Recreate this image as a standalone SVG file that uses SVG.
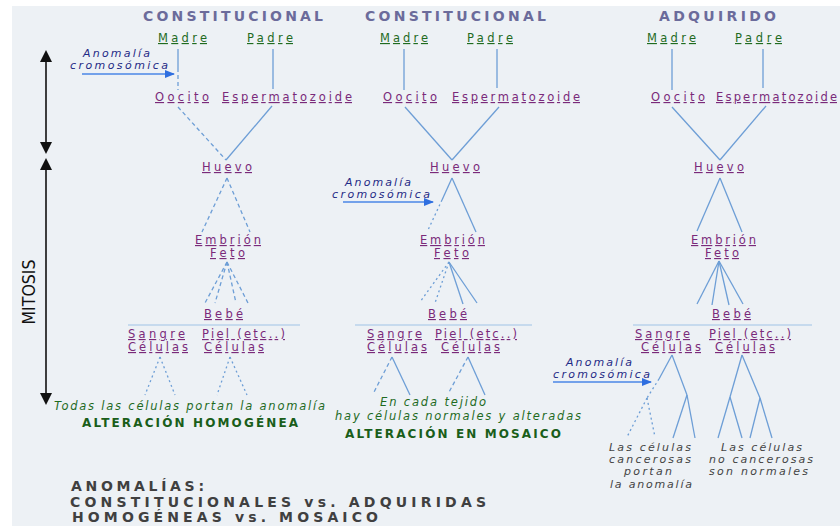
<svg xmlns="http://www.w3.org/2000/svg" width="840" height="526" viewBox="0 0 840 526">
<style>
text{font-family:"DejaVu Sans","Verdana",sans-serif;}
.ttl{font-size:14px;font-weight:bold;fill:#6b6b9b;}
.g{font-size:11.5px;fill:#1f6b1f;text-decoration:underline;}
.p{font-size:11.5px;fill:#7a2a7a;text-decoration:underline;}
.an{font-size:11px;font-style:italic;fill:#1f2a85;}
.gi{font-size:11.5px;font-style:italic;fill:#1f6b1f;}
.gb{font-size:12px;font-weight:bold;fill:#1a5e1a;}
.gr{font-size:11px;font-style:italic;fill:#444;}
.bt{font-size:14px;font-weight:bold;fill:#404040;}
.ln{stroke:#6d9ed6;stroke-width:1.3;fill:none;}
.ds{stroke:#6d9ed6;stroke-width:1.3;fill:none;stroke-dasharray:4 3;}
.dt{stroke:#6d9ed6;stroke-width:1.3;fill:none;stroke-dasharray:2 3;}
.sep{stroke:#9fc3e6;stroke-width:1;}
.ar{stroke:#4a86e6;stroke-width:1.3;fill:none;}
</style>
<defs>
<marker id="ah" markerWidth="10" markerHeight="8" refX="9" refY="4" orient="auto" markerUnits="userSpaceOnUse">
<path d="M0,0 L10,4 L0,8 Z" fill="#2f6fe0"/>
</marker>
</defs>
<rect x="0" y="0" width="840" height="526" fill="#ffffff"/>
<rect x="12" y="6" width="828" height="520" fill="#edf1f5"/>

<g id="titles">
<text class="ttl" x="143" y="21" textLength="180" lengthAdjust="spacing">CONSTITUCIONAL</text>
<text class="ttl" x="365" y="21" textLength="181" lengthAdjust="spacing">CONSTITUCIONAL</text>
<text class="ttl" x="659" y="21" textLength="117" lengthAdjust="spacing">ADQUIRIDO</text>
</g>

<g id="connectors">
<!-- column 1 -->
<line class="ln" x1="178" y1="49" x2="178" y2="68"/>
<line class="ds" x1="178" y1="68" x2="178" y2="90"/>
<line class="ln" x1="273" y1="49" x2="273" y2="89"/>
<line class="ds" x1="178" y1="107" x2="226" y2="160"/>
<line class="ln" x1="272" y1="106" x2="226" y2="160"/>
<line class="ds" x1="227" y1="178" x2="202" y2="232"/>
<line class="ds" x1="227" y1="178" x2="250" y2="232"/>
<line class="ds" x1="227" y1="262" x2="205" y2="303"/>
<line class="ds" x1="227" y1="262" x2="215" y2="303"/>
<line class="ds" x1="227" y1="262" x2="236" y2="303"/>
<line class="ds" x1="227" y1="262" x2="248" y2="303"/>
<line class="sep" x1="128" y1="325" x2="300" y2="325"/>
<line class="dt" x1="160" y1="357" x2="145" y2="395"/>
<line class="dt" x1="160" y1="357" x2="175" y2="395"/>
<line class="dt" x1="230" y1="357" x2="217" y2="395"/>
<line class="dt" x1="230" y1="357" x2="247" y2="395"/>
<!-- column 2 -->
<line class="ln" x1="404" y1="49" x2="404" y2="90"/>
<line class="ln" x1="497" y1="49" x2="497" y2="88"/>
<line class="ln" x1="405" y1="107" x2="452" y2="160"/>
<line class="ln" x1="499" y1="107" x2="452" y2="160"/>
<line class="ln" x1="452" y1="178" x2="442" y2="200"/>
<line class="dt" x1="442" y1="200" x2="428" y2="230"/>
<line class="ln" x1="452" y1="178" x2="476" y2="232"/>
<line class="dt" x1="449" y1="262" x2="420" y2="302"/>
<line class="dt" x1="449" y1="262" x2="435" y2="303"/>
<line class="ln" x1="449" y1="262" x2="463" y2="304"/>
<line class="ln" x1="449" y1="262" x2="477" y2="303"/>
<line class="sep" x1="355" y1="325" x2="532" y2="325"/>
<line class="ds" x1="392" y1="357" x2="373" y2="394"/>
<line class="ln" x1="392" y1="357" x2="410" y2="395"/>
<line class="ds" x1="468" y1="357" x2="448" y2="394"/>
<line class="ln" x1="468" y1="357" x2="485" y2="395"/>
<!-- column 3 -->
<line class="ln" x1="672" y1="49" x2="672" y2="90"/>
<line class="ln" x1="763" y1="49" x2="763" y2="88"/>
<line class="ln" x1="672" y1="107" x2="720" y2="160"/>
<line class="ln" x1="766" y1="106" x2="720" y2="160"/>
<line class="ln" x1="720" y1="178" x2="697" y2="231"/>
<line class="ln" x1="720" y1="178" x2="742" y2="232"/>
<line class="ln" x1="719" y1="261" x2="697" y2="304"/>
<line class="ln" x1="719" y1="261" x2="712" y2="305"/>
<line class="ln" x1="719" y1="261" x2="729" y2="305"/>
<line class="ln" x1="719" y1="261" x2="743" y2="304"/>
<line class="sep" x1="633" y1="325" x2="812" y2="325"/>
<line class="ln" x1="672" y1="355" x2="659" y2="379"/>
<line class="dt" x1="659" y1="379" x2="647" y2="398"/>
<line class="dt" x1="647" y1="398" x2="627" y2="437"/>
<line class="dt" x1="647" y1="398" x2="655" y2="437"/>
<line class="ln" x1="672" y1="355" x2="687" y2="395"/>
<line class="ln" x1="687" y1="395" x2="673" y2="438"/>
<line class="ln" x1="687" y1="395" x2="695" y2="438"/>
<line class="ln" x1="742" y1="355" x2="730" y2="397"/>
<line class="ln" x1="742" y1="355" x2="760" y2="398"/>
<line class="ln" x1="730" y1="397" x2="718" y2="438"/>
<line class="ln" x1="730" y1="397" x2="742" y2="438"/>
<line class="ln" x1="760" y1="398" x2="750" y2="438"/>
<line class="ln" x1="760" y1="398" x2="772" y2="438"/>
<!-- anomaly arrows -->
<line class="ar" x1="82" y1="74" x2="174" y2="74" marker-end="url(#ah)"/>
<line class="ar" x1="343" y1="202" x2="433" y2="202" marker-end="url(#ah)"/>
<line class="ar" x1="553" y1="382" x2="651" y2="382" marker-end="url(#ah)"/>
</g>

<g id="mitosis-axis">
<line x1="46" y1="60" x2="46" y2="144" stroke="#111" stroke-width="1.6"/>
<path d="M46,50 L52,62 L40,62 Z" fill="#111"/>
<path d="M46,154 L52,142 L40,142 Z" fill="#111"/>
<line x1="46" y1="168" x2="46" y2="395" stroke="#111" stroke-width="1.6"/>
<path d="M46,158 L52,170 L40,170 Z" fill="#111"/>
<path d="M46,405 L52,393 L40,393 Z" fill="#111"/>
<text x="28" y="299" transform="rotate(-90 28 292)" text-anchor="middle" font-size="18" textLength="65" lengthAdjust="spacingAndGlyphs" style="font-family:'DejaVu Sans Condensed','Liberation Sans',sans-serif;fill:#111">MITOSIS</text>
</g>

<g id="col1">
<g id="c1-madre"><text class="g" x="158" y="42" textLength="49" lengthAdjust="spacing">Madre</text></g>
<g id="c1-padre"><text class="g" x="247" y="42" textLength="46" lengthAdjust="spacing">Padre</text></g>
<g id="c1-anomalia"><text class="an" x="83" y="57" textLength="67" lengthAdjust="spacing">Anomalía</text><text class="an" x="70" y="69" textLength="98" lengthAdjust="spacing">cromosómica</text></g>
<g id="c1-oocito"><text class="p" x="155" y="101" textLength="54" lengthAdjust="spacing">Oocito</text></g>
<g id="c1-esperm"><text class="p" x="222" y="101" textLength="130" lengthAdjust="spacing">Espermatozoide</text></g>
<g id="c1-huevo"><text class="p" x="202" y="171" textLength="50" lengthAdjust="spacing">Huevo</text></g>
<g id="c1-embrion"><text class="p" x="195" y="244" textLength="66" lengthAdjust="spacing">Embrión</text><text class="p" x="210" y="257" textLength="35" lengthAdjust="spacing">Feto</text></g>
<g id="c1-bebe"><text class="p" x="204" y="318" textLength="39" lengthAdjust="spacing">Bebé</text></g>
<g id="c1-sangre"><text class="p" x="128" y="338" textLength="57" lengthAdjust="spacing">Sangre</text><text class="p" x="128" y="351" textLength="60" lengthAdjust="spacing">Células</text></g>
<g id="c1-piel"><text class="p" x="202" y="338" textLength="83" lengthAdjust="spacing">Piel (etc..)</text><text class="p" x="204" y="351" textLength="60" lengthAdjust="spacing">Células</text></g>
<g id="c1-result"><text class="gi" x="54" y="410" textLength="271" lengthAdjust="spacing">Todas las células portan la anomalía</text><text class="gb" x="82" y="427" textLength="216" lengthAdjust="spacing">ALTERACIÓN HOMOGÉNEA</text></g>
</g>

<g id="col2">
<g id="c2-madre"><text class="g" x="380" y="42" textLength="48" lengthAdjust="spacing">Madre</text></g>
<g id="c2-padre"><text class="g" x="467" y="42" textLength="46" lengthAdjust="spacing">Padre</text></g>
<g id="c2-oocito"><text class="p" x="383" y="101" textLength="54" lengthAdjust="spacing">Oocito</text></g>
<g id="c2-esperm"><text class="p" x="452" y="101" textLength="128" lengthAdjust="spacing">Espermatozoide</text></g>
<g id="c2-huevo"><text class="p" x="430" y="171" textLength="50" lengthAdjust="spacing">Huevo</text></g>
<g id="c2-anomalia"><text class="an" x="345" y="186" textLength="66" lengthAdjust="spacing">Anomalía</text><text class="an" x="332" y="198" textLength="98" lengthAdjust="spacing">cromosómica</text></g>
<g id="c2-embrion"><text class="p" x="420" y="244" textLength="65" lengthAdjust="spacing">Embrión</text><text class="p" x="434" y="257" textLength="35" lengthAdjust="spacing">Feto</text></g>
<g id="c2-bebe"><text class="p" x="428" y="318" textLength="39" lengthAdjust="spacing">Bebé</text></g>
<g id="c2-sangre"><text class="p" x="367" y="338" textLength="55" lengthAdjust="spacing">Sangre</text><text class="p" x="367" y="351" textLength="60" lengthAdjust="spacing">Células</text></g>
<g id="c2-piel"><text class="p" x="435" y="338" textLength="82" lengthAdjust="spacing">Piel (etc..)</text><text class="p" x="441" y="351" textLength="59" lengthAdjust="spacing">Células</text></g>
<g id="c2-result"><text class="gi" x="380" y="406" textLength="106" lengthAdjust="spacing">En cada tejido</text><text class="gi" x="335" y="420" textLength="246" lengthAdjust="spacing">hay células normales y alteradas</text><text class="gb" x="345" y="438" textLength="216" lengthAdjust="spacing">ALTERACIÓN EN MOSAICO</text></g>
</g>

<g id="col3">
<g id="c3-madre"><text class="g" x="647" y="42" textLength="49" lengthAdjust="spacing">Madre</text></g>
<g id="c3-padre"><text class="g" x="735" y="42" textLength="47" lengthAdjust="spacing">Padre</text></g>
<g id="c3-oocito"><text class="p" x="651" y="101" textLength="54" lengthAdjust="spacing">Oocito</text></g>
<g id="c3-esperm"><text class="p" x="716" y="101" textLength="121" lengthAdjust="spacing">Espermatozoide</text></g>
<g id="c3-huevo"><text class="p" x="694" y="171" textLength="50" lengthAdjust="spacing">Huevo</text></g>
<g id="c3-embrion"><text class="p" x="691" y="244" textLength="65" lengthAdjust="spacing">Embrión</text><text class="p" x="705" y="257" textLength="34" lengthAdjust="spacing">Feto</text></g>
<g id="c3-bebe"><text class="p" x="712" y="318" textLength="39" lengthAdjust="spacing">Bebé</text></g>
<g id="c3-sangre"><text class="p" x="635" y="338" textLength="55" lengthAdjust="spacing">Sangre</text><text class="p" x="641" y="351" textLength="60" lengthAdjust="spacing">Células</text></g>
<g id="c3-piel"><text class="p" x="709" y="338" textLength="82" lengthAdjust="spacing">Piel (etc..)</text><text class="p" x="715" y="351" textLength="60" lengthAdjust="spacing">Células</text></g>
<g id="c3-anomalia"><text class="an" x="566" y="366" textLength="66" lengthAdjust="spacing">Anomalía</text><text class="an" x="553" y="378" textLength="97" lengthAdjust="spacing">cromosómica</text></g>
<g id="c3-cancer"><text class="gr" x="609" y="451" textLength="82" lengthAdjust="spacing">Las células</text><text class="gr" x="609" y="463" textLength="82" lengthAdjust="spacing">cancerosas</text><text class="gr" x="624" y="475" textLength="48" lengthAdjust="spacing">portan</text><text class="gr" x="610" y="488" textLength="82" lengthAdjust="spacing">la anomalía</text></g>
<g id="c3-normal"><text class="gr" x="721" y="451" textLength="81" lengthAdjust="spacing">Las células</text><text class="gr" x="709" y="463" textLength="104" lengthAdjust="spacing">no cancerosas</text><text class="gr" x="709" y="475" textLength="99" lengthAdjust="spacing">son normales</text></g>
</g>

<g id="caption">
<text class="bt" x="71" y="491" textLength="133" lengthAdjust="spacing">ANOMALÍAS:</text>
<text class="bt" x="70" y="507" textLength="416" lengthAdjust="spacing">CONSTITUCIONALES vs. ADQUIRIDAS</text>
<text class="bt" x="72" y="522" textLength="306" lengthAdjust="spacing">HOMOGÉNEAS vs. MOSAICO</text>
</g>
</svg>
